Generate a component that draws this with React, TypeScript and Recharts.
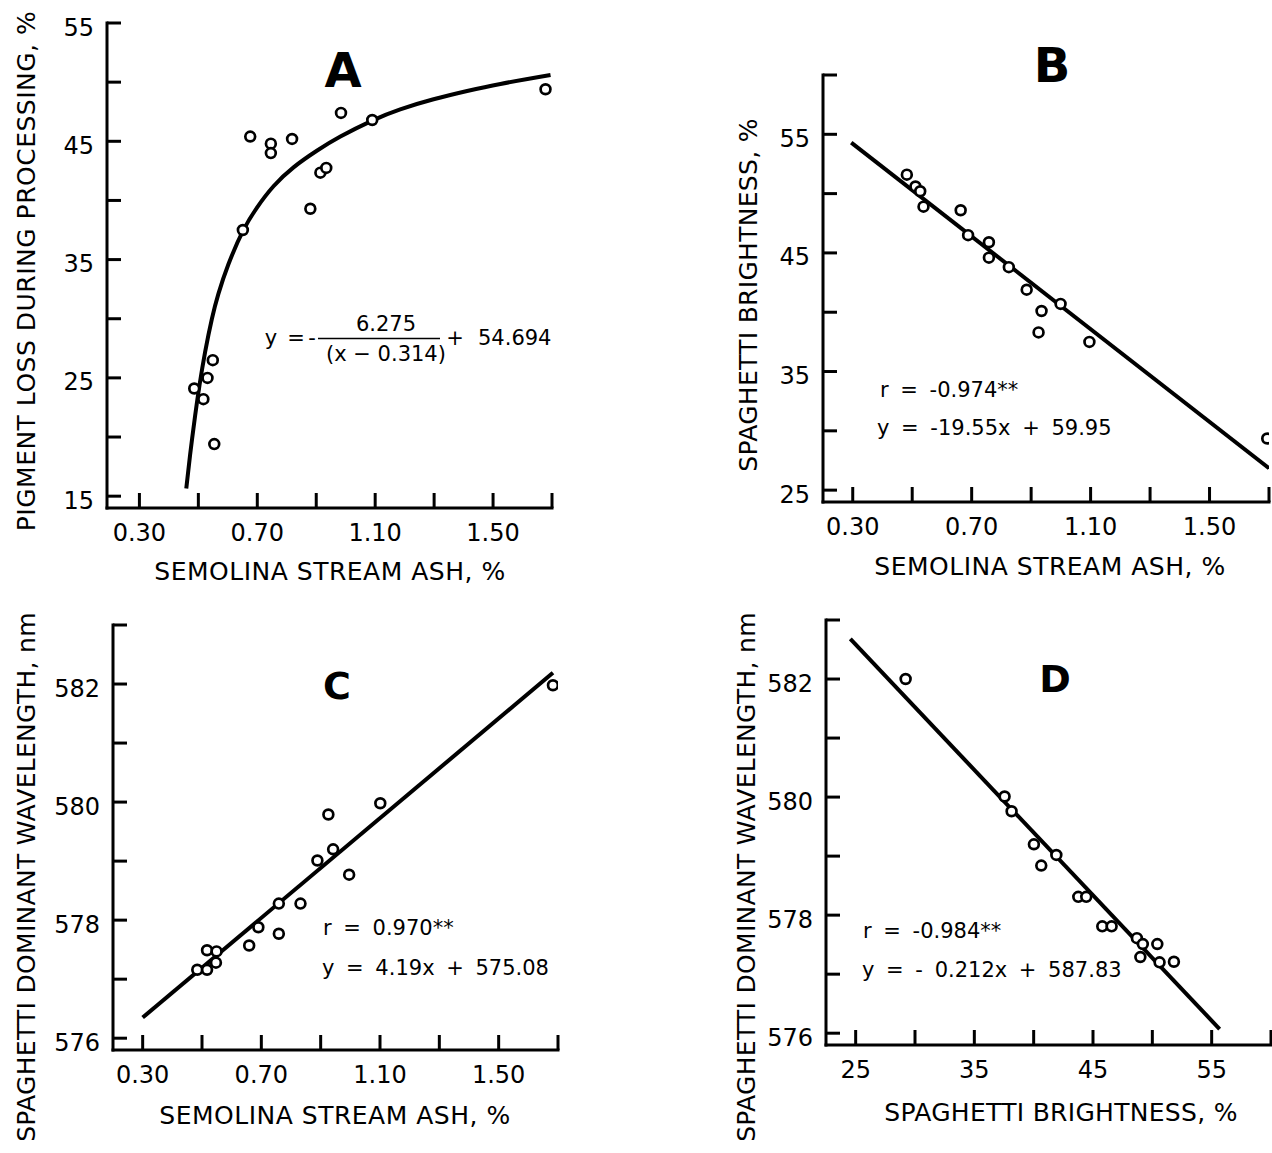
import React from "react";
import { ComposedChart, XAxis, YAxis, Line, Scatter } from "recharts";

const FONT = '"DejaVu Sans", Verdana, sans-serif';

// A: pigment loss vs semolina ash
const ashA = [0.486, 0.517, 0.531, 0.549, 0.554, 0.651, 0.676, 0.746, 0.746, 0.818, 0.88, 0.914, 0.934, 0.984, 1.09, 1.678];
const lossA = [24.1, 23.2, 25.0, 26.5, 19.4, 37.5, 45.4, 44.8, 44.0, 45.2, 39.3, 42.35, 42.75, 47.4, 46.8, 49.4];
const curveAshA = [0.459, 0.472, 0.489, 0.504, 0.523, 0.546, 0.568, 0.602, 0.651, 0.699, 0.755, 0.823, 0.902, 0.982, 1.09, 1.185, 1.298, 1.412, 1.525, 1.695];
const curveLossA = [15.65, 18.5, 21.8, 24.4, 27.2, 30.0, 32.1, 34.6, 37.4, 39.4, 41.2, 42.8, 44.2, 45.4, 46.75, 47.7, 48.55, 49.25, 49.85, 50.6];

// B: spaghetti brightness vs semolina ash
const ashB = [0.482, 0.511, 0.527, 0.538, 0.663, 0.688, 0.758, 0.758, 0.825, 0.885, 0.935, 0.925, 0.999, 1.096, 1.694];
const brightB = [51.6, 50.6, 50.2, 48.9, 48.6, 46.5, 45.9, 44.6, 43.8, 41.9, 40.1, 38.3, 40.7, 37.5, 29.35];
const fitAshB = [0.295, 1.7];
const fitBrightB = [54.3, 26.85];

// C: dominant wavelength vs semolina ash
const ashC = [0.484, 0.517, 0.517, 0.549, 0.547, 0.659, 0.69, 0.759, 0.759, 0.832, 0.889, 0.926, 0.942, 0.996, 1.101, 1.683];
const waveC = [577.16, 577.16, 577.49, 577.47, 577.28, 577.57, 577.88, 578.28, 577.77, 578.28, 579.01, 579.79, 579.2, 578.77, 579.98, 581.98];
const fitAshC = [0.3, 1.683];
const fitWaveC = [576.35, 582.19];

// D: dominant wavelength vs brightness
const brightD = [29.21, 37.55, 38.14, 40.02, 41.91, 40.64, 43.76, 44.43, 45.78, 46.57, 48.7, 49.2, 50.42, 48.99, 50.61, 51.82];
const waveD = [582.0, 580.01, 579.76, 579.2, 579.02, 578.84, 578.31, 578.31, 577.81, 577.81, 577.61, 577.51, 577.51, 577.29, 577.2, 577.21];
const fitBrightD = [24.55, 55.67];
const fitWaveD = [582.68, 576.07];

// ticks
const ashTicks = [0.3, 0.5, 0.7, 0.9, 1.1, 1.3, 1.5, 1.7];
const ashTickLabels = ["0.30", "", "0.70", "", "1.10", "", "1.50", ""];
const lossTicks = [15, 20, 25, 30, 35, 40, 45, 50, 55];
const lossTickLabels = ["15", "", "25", "", "35", "", "45", "", "55"];
const brightTicks = [25, 30, 35, 40, 45, 50, 55, 60];
const brightTickLabels = ["25", "", "35", "", "45", "", "55", ""];
const waveTicks = [576, 577, 578, 579, 580, 581, 582, 583];
const waveTickLabels = ["576", "", "578", "", "580", "", "582", ""];

const toPts = (xs: number[], ys: number[]) => xs.map((x, i) => ({ x, y: ys[i] }));

const Y_W = 75;
const X_H = 50;
const TM = 10;

const labelOf = (ticks: number[], labels: string[], v: number) => {
  const i = ticks.findIndex((t) => Math.abs(t - v) < 1e-6);
  return i >= 0 ? labels[i] : "";
};

const Ring = (props: any) => {
  if (props.cx == null || props.cy == null) return null;
  return <circle cx={props.cx} cy={props.cy} r={4.9} fill="#fff" stroke="#000" strokeWidth={2.7} />;
};

interface PanelProps {
  left: number;
  top: number;
  width: number;
  height: number;
  xDomain: [number, number];
  yDomain: [number, number];
  xTicks: number[];
  xLabels: string[];
  yTicks: number[];
  yLabels: string[];
  points: { x: number; y: number }[];
  fit: { x: number; y: number }[];
  curved?: boolean;
}

function Panel(p: PanelProps) {
  const renderXTick = (t: any) => {
    const axisY = t.y - TM;
    return (
      <g>
        <line x1={t.x} x2={t.x} y1={axisY} y2={axisY - 15} stroke="#000" strokeWidth={3} />
        <text x={t.x} y={axisY + 33} textAnchor="middle" fontSize={24} fontFamily={FONT} fill="#000">
          {labelOf(p.xTicks, p.xLabels, t.payload.value)}
        </text>
      </g>
    );
  };
  const renderYTick = (t: any) => {
    const axisX = t.x + TM;
    return (
      <g>
        <line x1={axisX} x2={axisX + 14} y1={t.y} y2={t.y} stroke="#000" strokeWidth={3} />
        <text x={axisX - 13} y={t.y + 12.5} textAnchor="end" fontSize={24} fontFamily={FONT} fill="#000">
          {labelOf(p.yTicks, p.yLabels, t.payload.value)}
        </text>
      </g>
    );
  };
  return (
    <div style={{ position: "absolute", left: p.left - Y_W, top: p.top - 10 }}>
      <ComposedChart
        width={p.width + Y_W + 12}
        height={p.height + 10 + X_H}
        margin={{ top: 10, right: 12, bottom: 0, left: 0 }}
      >
        <XAxis
          type="number"
          dataKey="x"
          domain={p.xDomain}
          ticks={p.xTicks}
          interval={0}
          allowDataOverflow
          height={X_H}
          axisLine={{ stroke: "#000", strokeWidth: 3, strokeLinecap: "square" }}
          tickLine={false}
          tickSize={0}
          tickMargin={TM}
          tick={renderXTick}
        />
        <YAxis
          type="number"
          dataKey="y"
          domain={p.yDomain}
          ticks={p.yTicks}
          interval={0}
          allowDataOverflow
          width={Y_W}
          axisLine={{ stroke: "#000", strokeWidth: 3, strokeLinecap: "square" }}
          tickLine={false}
          tickSize={0}
          tickMargin={TM}
          tick={renderYTick}
        />
        <Line
          data={p.fit}
          dataKey="y"
          type={p.curved ? "natural" : "linear"}
          stroke="#000"
          strokeWidth={4}
          dot={false}
          activeDot={false}
          isAnimationActive={false}
        />
        <Scatter data={p.points} dataKey="y" shape={<Ring />} isAnimationActive={false} />
      </ComposedChart>
    </div>
  );
}

const txt = { fontFamily: FONT, fill: "#000" } as const;

export default function App() {
  return (
    <div
      style={{
        position: "absolute",
        left: 0,
        top: 0,
        width: 1272,
        height: 1153,
        overflow: "hidden",
        background: "#fff",
      }}
    >
      <Panel
        left={107}
        top={23}
        width={445}
        height={485}
        xDomain={[0.19, 1.7]}
        yDomain={[14, 55]}
        xTicks={ashTicks}
        xLabels={ashTickLabels}
        yTicks={lossTicks}
        yLabels={lossTickLabels}
        points={toPts(ashA, lossA)}
        fit={toPts(curveAshA, curveLossA)}
        curved
      />
      <Panel
        left={823}
        top={75}
        width={446}
        height={427}
        xDomain={[0.2, 1.7]}
        yDomain={[24, 60]}
        xTicks={ashTicks}
        xLabels={ashTickLabels}
        yTicks={brightTicks}
        yLabels={brightTickLabels}
        points={toPts(ashB, brightB)}
        fit={toPts(fitAshB, fitBrightB)}
      />
      <Panel
        left={113}
        top={625}
        width={445}
        height={425}
        xDomain={[0.2, 1.7]}
        yDomain={[575.8, 583]}
        xTicks={ashTicks}
        xLabels={ashTickLabels}
        yTicks={waveTicks}
        yLabels={waveTickLabels}
        points={toPts(ashC, waveC)}
        fit={toPts(fitAshC, fitWaveC)}
      />
      <Panel
        left={826}
        top={620}
        width={445}
        height={425}
        xDomain={[22.5, 60]}
        yDomain={[575.8, 583]}
        xTicks={brightTicks}
        xLabels={brightTickLabels}
        yTicks={waveTicks}
        yLabels={waveTickLabels}
        points={toPts(brightD, waveD)}
        fit={toPts(fitBrightD, fitWaveD)}
      />

      <svg
        width={1272}
        height={1153}
        style={{ position: "absolute", left: 0, top: 0, pointerEvents: "none" }}
      >
        {/* panel letters */}
        <text x={343} y={87} textAnchor="middle" fontSize={48} fontWeight="bold" {...txt}>A</text>
        <text x={1052} y={82} textAnchor="middle" fontSize={48} fontWeight="bold" {...txt}>B</text>
        <text x={337} y={699} textAnchor="middle" fontSize={38} fontWeight="bold" {...txt}>C</text>
        <text x={1055} y={692} textAnchor="middle" fontSize={38} fontWeight="bold" {...txt}>D</text>

        {/* axis titles */}
        <text x={330} y={580} textAnchor="middle" fontSize={25} letterSpacing={0.5} {...txt}>SEMOLINA STREAM ASH, %</text>
        <text x={1050} y={575} textAnchor="middle" fontSize={25} letterSpacing={0.5} {...txt}>SEMOLINA STREAM ASH, %</text>
        <text x={335} y={1124} textAnchor="middle" fontSize={25} letterSpacing={0.5} {...txt}>SEMOLINA STREAM ASH, %</text>
        <text x={1061} y={1121} textAnchor="middle" fontSize={25} letterSpacing={0.3} {...txt}>SPAGHETTI BRIGHTNESS, %</text>
        <text x={35} y={271} transform="rotate(-90 35 271)" textAnchor="middle" fontSize={25} letterSpacing={0.5} {...txt}>PIGMENT LOSS DURING PROCESSING, %</text>
        <text x={757} y={295} transform="rotate(-90 757 295)" textAnchor="middle" fontSize={25} letterSpacing={0.3} {...txt}>SPAGHETTI BRIGHTNESS, %</text>
        <text x={35} y={877} transform="rotate(-90 35 877)" textAnchor="middle" fontSize={25} letterSpacing={0.3} {...txt}>SPAGHETTI DOMINANT WAVELENGTH, nm</text>
        <text x={755} y={877} transform="rotate(-90 755 877)" textAnchor="middle" fontSize={25} letterSpacing={0.3} {...txt}>SPAGHETTI DOMINANT WAVELENGTH, nm</text>

        {/* equation A */}
        <text x={271} y={345} textAnchor="middle" fontSize={21} {...txt}>y</text>
        <text x={296} y={345} textAnchor="middle" fontSize={21} {...txt}>=</text>
        <text x={312} y={345} textAnchor="middle" fontSize={21} {...txt}>-</text>
        <line x1={318} x2={440} y1={338.5} y2={338.5} stroke="#000" strokeWidth={1.5} />
        <text x={386} y={331} textAnchor="middle" fontSize={21} {...txt}>6.275</text>
        <text x={386} y={361} textAnchor="middle" fontSize={21} {...txt}>(x − 0.314)</text>
        <text x={455} y={345} textAnchor="middle" fontSize={21} {...txt}>+</text>
        <text x={478} y={345} fontSize={21} {...txt}>54.694</text>

        {/* equations B, C, D */}
        <text x={880} y={397} fontSize={21} wordSpacing={5} {...txt}>r = -0.974**</text>
        <text x={877} y={435} fontSize={21} wordSpacing={5} {...txt}>y = -19.55x + 59.95</text>
        <text x={323} y={935} fontSize={21} wordSpacing={5} {...txt}>r = 0.970**</text>
        <text x={322} y={975} fontSize={21} wordSpacing={5} {...txt}>y = 4.19x + 575.08</text>
        <text x={863} y={938} fontSize={21} wordSpacing={5} {...txt}>r = -0.984**</text>
        <text x={862} y={977} fontSize={21} wordSpacing={5} {...txt}>y = - 0.212x + 587.83</text>
      </svg>
    </div>
  );
}
